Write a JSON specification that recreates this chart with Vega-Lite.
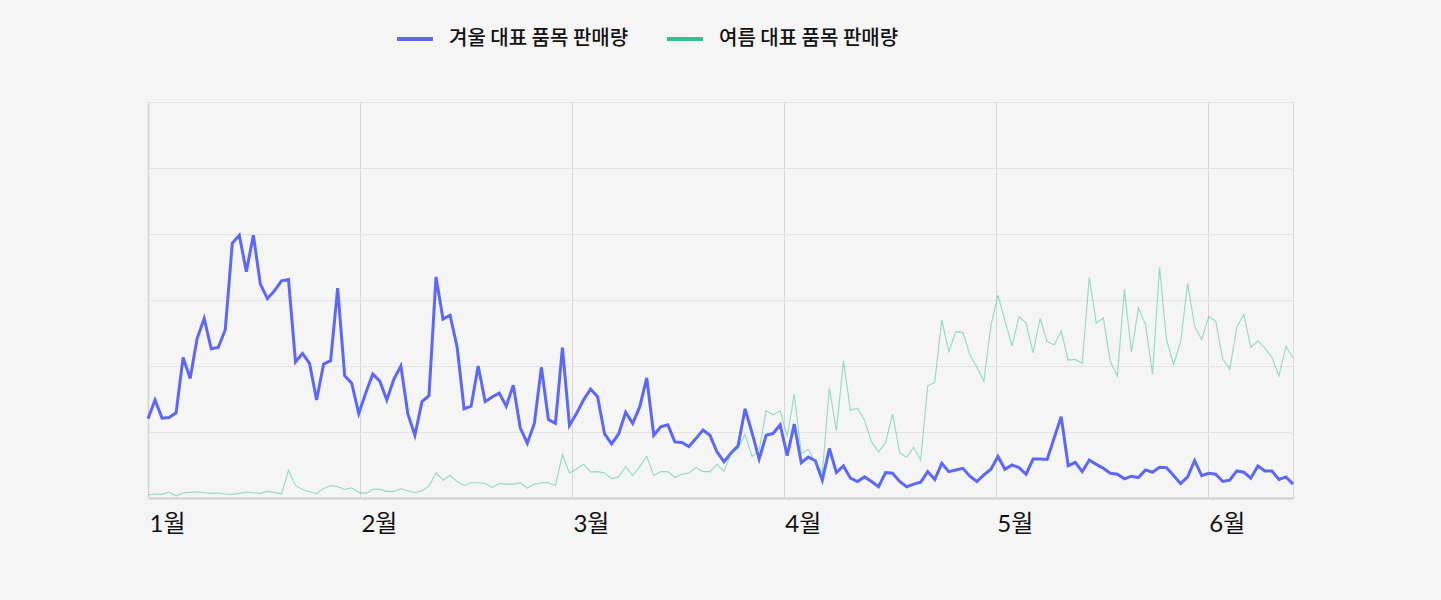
{
  "$schema": "https://vega.github.io/schema/vega-lite/v6.json",
  "width": 1145,
  "height": 396,
  "autosize": {"type": "none"},
  "padding": {"left": 148, "top": 102, "right": 148, "bottom": 102},
  "background": "#f5f5f5",
  "config": {
    "view": {"stroke": "#dcdcdc", "strokeWidth": 1},
    "font": "Lato, 'Noto Sans CJK KR'"
  },
  "data": {"values": [
    {"d":0,"w":12.0,"s":0.45},{"d":1,"w":14.85,"s":0.6},{"d":2,"w":12.1,"s":0.55},{"d":3,"w":12.2,"s":0.9},{"d":4,"w":12.9,"s":0.3},
    {"d":5,"w":21.3,"s":0.8},{"d":6,"w":18.1,"s":0.85},{"d":7,"w":24.2,"s":0.9},{"d":8,"w":27.2,"s":0.8},{"d":9,"w":22.6,"s":0.7},
    {"d":10,"w":22.8,"s":0.75},{"d":11,"w":25.5,"s":0.6},{"d":12,"w":38.6,"s":0.55},{"d":13,"w":39.8,"s":0.7},{"d":14,"w":34.3,"s":0.9},
    {"d":15,"w":39.8,"s":0.8},{"d":16,"w":32.4,"s":0.7},{"d":17,"w":30.2,"s":1.0},{"d":18,"w":31.4,"s":0.85},{"d":19,"w":32.9,"s":0.6},
    {"d":20,"w":33.1,"s":4.2},{"d":21,"w":20.6,"s":1.9},{"d":22,"w":21.9,"s":1.3},{"d":23,"w":20.4,"s":0.95},{"d":24,"w":14.85,"s":0.65},
    {"d":25,"w":20.3,"s":1.45},{"d":26,"w":20.8,"s":1.9},{"d":27,"w":31.8,"s":1.7},{"d":28,"w":18.5,"s":1.3},{"d":29,"w":17.4,"s":1.55},
    {"d":30,"w":12.8,"s":0.85},{"d":31,"w":15.9,"s":0.7},{"d":32,"w":18.8,"s":1.3},{"d":33,"w":17.7,"s":1.3},{"d":34,"w":14.85,"s":1.0},
    {"d":35,"w":18.0,"s":1.0},{"d":36,"w":20.0,"s":1.4},{"d":37,"w":12.7,"s":1.1},{"d":38,"w":9.5,"s":0.8},{"d":39,"w":14.6,"s":1.1},
    {"d":40,"w":15.5,"s":1.8},{"d":41,"w":33.5,"s":3.8},{"d":42,"w":27.1,"s":2.7},{"d":43,"w":27.7,"s":3.4},{"d":44,"w":22.9,"s":2.5},
    {"d":45,"w":13.5,"s":1.9},{"d":46,"w":13.9,"s":2.3},{"d":47,"w":20.0,"s":2.3},{"d":48,"w":14.6,"s":2.2},{"d":49,"w":15.3,"s":1.6},
    {"d":50,"w":15.9,"s":2.2},{"d":51,"w":13.9,"s":2.1},{"d":52,"w":17.1,"s":2.1},{"d":53,"w":10.6,"s":2.3},{"d":54,"w":8.3,"s":1.5},
    {"d":55,"w":11.3,"s":2.1},{"d":56,"w":19.8,"s":2.3},{"d":57,"w":11.9,"s":2.3},{"d":58,"w":11.3,"s":1.9},{"d":59,"w":22.8,"s":6.6},
    {"d":60,"w":11.0,"s":3.8},{"d":61,"w":12.8,"s":4.4},{"d":62,"w":14.85,"s":5.1},{"d":63,"w":16.5,"s":3.95},{"d":64,"w":15.35,"s":4.0},
    {"d":65,"w":9.7,"s":3.8},{"d":66,"w":8.2,"s":2.9},{"d":67,"w":9.7,"s":3.2},{"d":68,"w":13.0,"s":4.75},{"d":69,"w":11.3,"s":3.4},
    {"d":70,"w":13.8,"s":4.75},{"d":71,"w":18.2,"s":6.3},{"d":72,"w":9.5,"s":3.4},{"d":73,"w":10.8,"s":4.0},{"d":74,"w":11.1,"s":4.0},
    {"d":75,"w":8.5,"s":3.1},{"d":76,"w":8.4,"s":3.6},{"d":77,"w":7.8,"s":3.8},{"d":78,"w":9.0,"s":4.6},{"d":79,"w":10.3,"s":4.0},
    {"d":80,"w":9.5,"s":4.0},{"d":81,"w":7.0,"s":5.1},{"d":82,"w":5.5,"s":4.0},{"d":83,"w":6.8,"s":6.8},{"d":84,"w":7.9,"s":7.5},
    {"d":85,"w":13.5,"s":9.65},{"d":86,"w":9.85,"s":6.25},{"d":87,"w":5.9,"s":7.3},{"d":88,"w":9.5,"s":13.2},{"d":89,"w":9.8,"s":12.6},
    {"d":90,"w":11.1,"s":13.2},{"d":91,"w":6.4,"s":9.3},{"d":92,"w":11.2,"s":15.7},{"d":93,"w":5.35,"s":6.7},{"d":94,"w":6.2,"s":7.4},
    {"d":95,"w":5.65,"s":5.5},{"d":96,"w":2.7,"s":3.85},{"d":97,"w":7.5,"s":16.6},{"d":98,"w":3.85,"s":10.2},{"d":99,"w":4.85,"s":20.8},
    {"d":100,"w":3.0,"s":13.3},{"d":101,"w":2.5,"s":13.6},{"d":102,"w":3.2,"s":11.8},{"d":103,"w":2.5,"s":8.5},{"d":104,"w":1.7,"s":7.0},
    {"d":105,"w":3.85,"s":8.4},{"d":106,"w":3.75,"s":12.7},{"d":107,"w":2.5,"s":6.9},{"d":108,"w":1.7,"s":6.15},{"d":109,"w":2.1,"s":7.7},
    {"d":110,"w":2.4,"s":5.75},{"d":111,"w":4.0,"s":17.0},{"d":112,"w":2.8,"s":17.5},{"d":113,"w":5.25,"s":27.0},{"d":114,"w":4.0,"s":22.2},
    {"d":115,"w":4.25,"s":25.2},{"d":116,"w":4.5,"s":25.1},{"d":117,"w":3.3,"s":21.7},{"d":118,"w":2.5,"s":19.8},{"d":119,"w":3.5,"s":17.7},
    {"d":120,"w":4.35,"s":26.2},{"d":121,"w":6.3,"s":30.75},{"d":122,"w":4.35,"s":26.8},{"d":123,"w":5.0,"s":23.0},{"d":124,"w":4.6,"s":27.5},
    {"d":125,"w":3.6,"s":26.5},{"d":126,"w":5.9,"s":22.0},{"d":127,"w":5.9,"s":27.2},{"d":128,"w":5.85,"s":23.7},{"d":129,"w":9.1,"s":23.2},
    {"d":130,"w":12.3,"s":25.3},{"d":131,"w":4.9,"s":20.9},{"d":132,"w":5.4,"s":21.0},{"d":133,"w":4.0,"s":20.4},{"d":134,"w":5.75,"s":33.4},
    {"d":135,"w":5.1,"s":26.5},{"d":136,"w":4.5,"s":27.3},{"d":137,"w":3.75,"s":20.65},{"d":138,"w":3.6,"s":18.5},{"d":139,"w":2.9,"s":31.6},
    {"d":140,"w":3.3,"s":22.1},{"d":141,"w":3.1,"s":28.8},{"d":142,"w":4.25,"s":26.3},{"d":143,"w":3.9,"s":18.8},{"d":144,"w":4.65,"s":34.95},
    {"d":145,"w":4.6,"s":23.9},{"d":146,"w":3.4,"s":20.25},{"d":147,"w":2.2,"s":23.6},{"d":148,"w":3.2,"s":32.5},{"d":149,"w":5.65,"s":26.0},
    {"d":150,"w":3.4,"s":24.0},{"d":151,"w":3.75,"s":27.5},{"d":152,"w":3.6,"s":26.8},{"d":153,"w":2.5,"s":21.0},{"d":154,"w":2.7,"s":19.5},
    {"d":155,"w":4.1,"s":25.9},{"d":156,"w":3.9,"s":27.8},{"d":157,"w":3.0,"s":22.8},{"d":158,"w":4.85,"s":23.8},{"d":159,"w":4.1,"s":22.7},
    {"d":160,"w":4.1,"s":21.3},{"d":161,"w":2.8,"s":18.5},{"d":162,"w":3.2,"s":23.0},{"d":163,"w":2.1,"s":21.2}
  ]},
  "transform": [{"fold": ["w", "s"], "as": ["series", "value"]}],
  "encoding": {
    "x": {
      "field": "d", "type": "quantitative",
      "scale": {"domain": [0, 163], "nice": false, "zero": false},
      "axis": {
        "values": [0, 30.17, 60.35, 90.52, 120.7, 150.87],
        "labelExpr": "['1월','2월','3월','4월','5월','6월'][round(datum.value/30.17)]",
        "title": null, "grid": true, "gridColor": "#d6d6d6", "gridWidth": 1,
        "ticks": false, "domain": true, "domainColor": "#cfcfcf", "domainWidth": 2,
        "labelAlign": "left", "labelOffset": 1, "labelFontSize": 24, "labelColor": "#111111",
        "labelFont": "Lato, 'Noto Sans CJK KR'", "labelPadding": 14, "labelFlush": false, "labelOverlap": false
      }
    },
    "y": {
      "field": "value", "type": "quantitative",
      "scale": {"domain": [0, 60], "nice": false},
      "axis": {
        "values": [0, 10, 20, 30, 40, 50, 60], "labels": false, "ticks": false,
        "domain": true, "domainColor": "#d3d3d3", "domainWidth": 1.5,
        "title": null, "grid": true, "gridColor": "#e3e3e3", "gridWidth": 1
      }
    },
    "color": {
      "field": "series", "type": "nominal",
      "scale": {"domain": ["w", "s"], "range": ["#5b68f8", "#2fc28c"]},
      "legend": {
        "orient": "none", "legendX": 247, "legendY": -83, "direction": "horizontal",
        "title": null, "symbolType": "stroke", "symbolSize": 1296, "symbolStrokeWidth": 4,
        "symbolOpacity": 1, "labelFontSize": 20, "labelFont": "'Noto Sans CJK KR'", "labelFontWeight": 500,
        "labelColor": "#111111", "labelOffset": 14, "columnPadding": 30, "labelLimit": 0,
        "labelExpr": "datum.value == 'w' ? '겨울 대표 품목 판매량' : '여름 대표 품목 판매량'"
      }
    }
  },
  "layer": [
    {
      "transform": [{"filter": "datum.series == 'w'"}],
      "mark": {"type": "line", "interpolate": "linear", "strokeJoin": "miter", "strokeWidth": 3, "opacity": 1}
    },
    {
      "transform": [{"filter": "datum.series == 's'"}],
      "mark": {"type": "line", "interpolate": "linear", "strokeWidth": 1.1, "opacity": 0.5}
    }
  ]
}
